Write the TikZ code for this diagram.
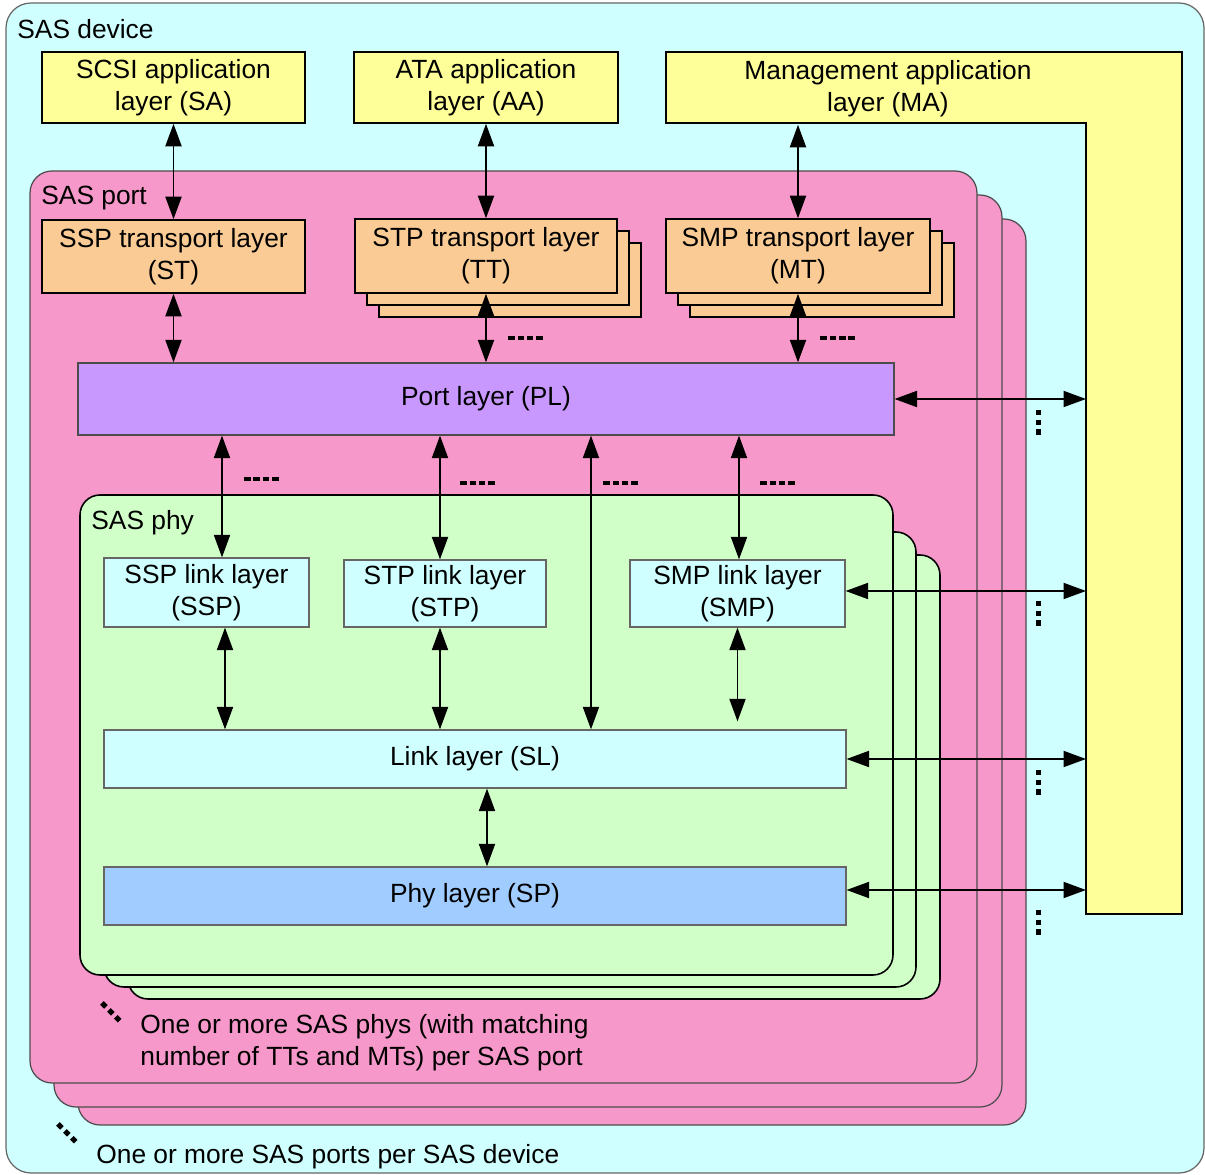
\documentclass[tikz,border=0pt]{standalone}
\usepackage{fontspec}
\setmainfont{Liberation Sans}
\usetikzlibrary{arrows.meta,positioning}
\definecolor{devcyan}{HTML}{CFFFFF}
\definecolor{appyellow}{HTML}{FFFF99}
\definecolor{portpink}{HTML}{F698CA}
\definecolor{trorange}{HTML}{FACB94}
\definecolor{plpurple}{HTML}{C898FF}
\definecolor{phygreen}{HTML}{D0FFC8}
\definecolor{linkcyan}{HTML}{CFFFFF}
\definecolor{spblue}{HTML}{A0CCFF}

\begin{document}
\begin{tikzpicture}[x=0.02cm,y=-0.02cm,>={Triangle[length=0.45cm,width=0.32cm]},
 lay/.style={draw,line width=0.9pt,inner sep=0pt,align=center,
  font=\fontsize{15}{18.2}\selectfont},
 lbl/.style={inner sep=0pt,anchor=west,align=left,font=\fontsize{15}{18.2}\selectfont},
 port/.style={draw=black!70,line width=0.7pt,fill=portpink,rounded corners=0.44cm},
 phy/.style={draw,line width=0.9pt,fill=phygreen,rounded corners=0.4cm},
 dbl/.style={<->,line width=1.1pt},
 dashmark/.style={line width=0.08cm,dash pattern=on 0.13cm off 0.06cm},
 dotmark/.style={line width=0.1cm,dash pattern=on 0.11cm off 0.085cm}]
\useasboundingbox (0,0) rectangle (1205,1175);
% SAS device
\filldraw[draw=black!60,line width=0.7pt,fill=devcyan,rounded corners=0.5cm]
 (6,3) rectangle (1204,1173);
\node[lbl] (dev) at (17,29) {SAS device};
% management application layer
\coordinate (mar) at (1086,123);
\filldraw[fill=appyellow,line width=0.9pt] (666,52) -- (1182,52) -- (1182,914)
 -- (1086,914) -- (mar) -- (666,123) -- cycle;
\node[lay,draw=none,minimum height=1.42cm] (ma) at (888,88.5)
 {Management application\\layer (MA)};
\node[lay,fill=appyellow,minimum width=5.26cm,minimum height=1.42cm] (sa)
 at (173.5,87.5) {SCSI application\\layer (SA)};
\node[lay,fill=appyellow,minimum width=5.28cm,minimum height=1.42cm] (aa)
 at (486,87.5) {ATA application\\layer (AA)};
% SAS ports
\foreach \l/\t/\r/\b in {78/219/1026/1125,54/195/1002/1107,30/171/977/1083}
 \filldraw[port] (\l,\t) rectangle (\r,\b);
\node[lbl] (prt) at (41,198) {SAS port};
\node[lay,fill=trorange,minimum width=5.26cm,minimum height=1.46cm] (st)
 at (173.5,256.5) {SSP transport layer\\(ST)};
\foreach \d in {24,12}{
 \filldraw[fill=trorange,line width=0.9pt] (355+\d,219+\d) rectangle (617+\d,293+\d);
 \filldraw[fill=trorange,line width=0.9pt] (666+\d,219+\d) rectangle (930+\d,293+\d);}
\node[lay,fill=trorange,minimum width=5.24cm,minimum height=1.48cm] (tt)
 at (486,256) {STP transport layer\\(TT)};
\node[lay,fill=trorange,minimum width=5.28cm,minimum height=1.48cm] (mt)
 at (798,256) {SMP transport layer\\(MT)};
\node[lay,draw=black!70,line width=0.7pt,fill=plpurple,minimum width=16.32cm,
 minimum height=1.44cm] (pl) at (486,399) {Port layer (PL)};
% SAS phys
\foreach \l/\t/\r/\b in {128/555/940/999,104/532/916/987,80/495/893/975}
 \filldraw[phy] (\l,\t) rectangle (\r,\b);
\node[lbl] (phy) at (91,523) {SAS phy};
\node[lay,draw=black!60,line width=0.7pt,fill=linkcyan,minimum width=4.1cm,
 minimum height=1.38cm] (sspl) at (206.5,592.5) {SSP link layer\\(SSP)};
\node[lay,draw=black!60,line width=0.7pt,fill=linkcyan,minimum width=4.04cm,
 minimum height=1.34cm] (stpl) at (445,593.5) {STP link layer\\(STP)};
\node[lay,draw=black!60,line width=0.7pt,fill=linkcyan,minimum width=4.3cm,
 minimum height=1.34cm] (smpl) at (737.5,593.5) {SMP link layer\\(SMP)};
\node[lay,draw=black!60,line width=0.7pt,fill=linkcyan,minimum width=14.84cm,
 minimum height=1.16cm] (sl) at (475,759) {Link layer (SL)};
\node[lay,draw=black!60,line width=0.7pt,fill=spblue,minimum width=14.84cm,
 minimum height=1.16cm] (sp) at (475,896) {Phy layer (SP)};
% connectors
\draw[dbl] (sa.south) -- (st.north);
\draw[dbl] (aa.south) -- (tt.north);
\draw[dbl] (mt.north) -- (mt.north |- ma.south);
\draw[dbl] (st.south) -- (st.south |- pl.north);
\draw[dbl] (tt.south) -- (tt.south |- pl.north);
\draw[dbl] (mt.south) -- (mt.south |- pl.north);
\draw[dbl] ([xshift=0.31cm]sspl.north) coordinate (a1) -- (a1 |- pl.south);
\draw[dbl] ([xshift=-0.1cm]stpl.north) coordinate (a2) -- (a2 |- pl.south);
\draw[dbl] ([xshift=2.32cm]sl.north) coordinate (a3) -- (a3 |- pl.south);
\draw[dbl] ([xshift=0.03cm]smpl.north) coordinate (a4) -- (a4 |- pl.south);
\draw[dbl] ([xshift=0.37cm]sspl.south) coordinate (b1) -- (b1 |- sl.north);
\draw[dbl] ([xshift=-0.1cm]stpl.south) coordinate (b2) -- (b2 |- sl.north);
\draw[dbl,shorten >=0.16cm] (smpl.south) -- (smpl.south |- sl.north);
\draw[dbl] ([xshift=0.24cm]sl.south) coordinate (b3) -- (b3 |- sp.north);
\draw[dbl] (pl.east) -- (pl.east -| mar);
\draw[dbl] ([yshift=0.05cm]smpl.east) coordinate (c1) -- (c1 -| mar);
\draw[dbl] (sl.east) -- (sl.east -| mar);
\draw[dbl] ([yshift=0.12cm]sp.east) coordinate (c2) -- (c2 -| mar);
% more of the same
\draw[dashmark] (508,338) -- (543,338);
\draw[dashmark] (820,338) -- (855,338);
\draw[dashmark] (244,479) -- (279,479);
\draw[dashmark] (460,483) -- (495,483);
\draw[dashmark] (603,483) -- (638,483);
\draw[dashmark] (760,483) -- (795,483);
\foreach \y in {410,601,770,910}
 \draw[dotmark] (1038,\y) -- (1038,\y+25);
\draw[dotmark] (102,1003) -- (120,1021);
\draw[dotmark] (58,1124) -- (76,1142);
\node[lbl] (note1) at (140,1043) {One or more SAS phys (with matching\\number of TTs and MTs) per SAS port};
\node[lbl] (note2) at (96,1157) {One or more SAS ports per SAS device};
\end{tikzpicture}
\end{document}
